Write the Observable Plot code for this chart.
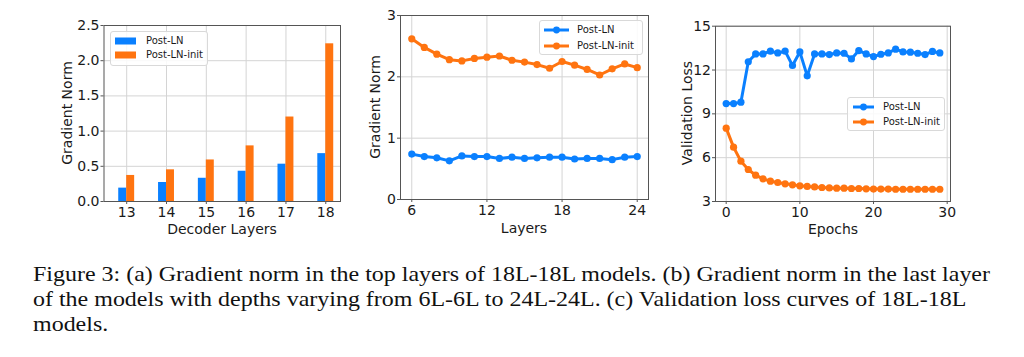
<!DOCTYPE html>
<html>
<head>
<meta charset="utf-8">
<script src="https://cdn.jsdelivr.net/npm/d3@7"></script>
<script src="https://cdn.jsdelivr.net/npm/@observablehq/plot@0.6"></script>
<style>
  html, body { margin: 0; padding: 0; background: #fff; }
  #root { position: relative; width: 1024px; height: 357px; overflow: hidden; background: #fff; font-family: "DejaVu Sans", sans-serif; }
  .panel { position: absolute; top: 0; }
  .atitle { position: absolute; font-family: "DejaVu Sans", sans-serif; font-size: 14px; color: #1a1a1a; white-space: nowrap; transform: translate(-50%, -50%); }
  .rot { transform: translate(-50%, -50%) rotate(-90deg); }
  .legend { position: absolute; background: rgba(255,255,255,0.85); border: 1px solid #d9d9d9; border-radius: 3px; box-sizing: border-box; }
  .legend .row { position: absolute; left: 0; height: 14px; font-size: 10px; color: #1a1a1a; white-space: nowrap; }
  .legend svg { position: absolute; top: 0; }
  .legend span { position: absolute; top: 0; line-height: 14px; }
  #caption { position: absolute; left: 33px; top: 262px; font-family: "Liberation Serif", "Times New Roman", serif; font-size: 21px; line-height: 25px; color: #111; white-space: nowrap; transform-origin: 0 0; }
  #caption div { white-space: nowrap; }
</style>
</head>
<body>
<div id="root">
  <div id="p1" class="panel" style="left:0px"></div>
  <div id="p2" class="panel" style="left:345px"></div>
  <div id="p3" class="panel" style="left:655px"></div>

  <div class="atitle rot" style="left:67px; top:113px">Gradient Norm</div>
  <div class="atitle" style="left:222px; top:229px">Decoder Layers</div>
  <div class="atitle rot" style="left:375px; top:107px">Gradient Norm</div>
  <div class="atitle" style="left:524px; top:228px">Layers</div>
  <div class="atitle rot" style="left:687px; top:113px">Validation Loss</div>
  <div class="atitle" style="left:833px; top:229px">Epochs</div>

  <div id="leg1" class="legend" style="left:110px; top:31px; width:98px; height:35px"></div>
  <div id="leg2" class="legend" style="left:539px; top:20px; width:104px; height:35px"></div>
  <div id="leg3" class="legend" style="left:847px; top:97px; width:98px; height:34px"></div>

  <div id="caption"><span id="cap1">Figure 3: (a) Gradient norm in the top layers of 18L-18L models. (b) Gradient norm in the last layer</span><br>of the models with depths varying from 6L-6L to 24L-24L. (c) Validation loss curves of 18L-18L<br>models.</div>
</div>
<script>
// ---------- Data ----------
const seriesNames = ["Post-LN", "Post-LN-init"];
const seriesColors = ["#0a80ff", "#ff7410"];

// (a) Gradient norm in top decoder layers (18L-18L)
const decoderLayers = [13, 14, 15, 16, 17, 18];
const gradA_postLN     = [0.19, 0.27, 0.33, 0.43, 0.53, 0.68];
const gradA_postLNinit = [0.37, 0.45, 0.59, 0.79, 1.20, 2.24];

// (b) Gradient norm in last layer vs depth
const depthLayers = [6, 7, 8, 9, 10, 11, 12, 13, 14, 15, 16, 17, 18, 19, 20, 21, 22, 23, 24];
const gradB_postLN     = [0.74, 0.70, 0.68, 0.63, 0.71, 0.70, 0.70, 0.67, 0.69, 0.67, 0.68, 0.69, 0.69, 0.66, 0.67, 0.67, 0.65, 0.69, 0.70];
const gradB_postLNinit = [2.62, 2.48, 2.37, 2.28, 2.26, 2.30, 2.32, 2.34, 2.27, 2.24, 2.20, 2.14, 2.25, 2.19, 2.12, 2.03, 2.13, 2.21, 2.15];

// (c) Validation loss vs epochs
const epochs = d3.range(0, 30);
const lossC_postLN = [9.70, 9.70, 9.80, 12.56, 13.10, 13.10, 13.29, 13.17, 13.29, 12.31, 13.24, 11.60, 13.10, 13.10, 13.06, 13.17, 13.15, 12.76, 13.33, 13.10, 12.92, 13.08, 13.17, 13.43, 13.24, 13.22, 13.15, 13.06, 13.27, 13.17];
const lossC_postLNinit = [8.02, 6.72, 5.76, 5.19, 4.80, 4.55, 4.39, 4.30, 4.21, 4.14, 4.07, 4.03, 4.00, 3.96, 3.93, 3.91, 3.91, 3.89, 3.89, 3.87, 3.85, 3.85, 3.85, 3.84, 3.84, 3.84, 3.84, 3.84, 3.84, 3.84];

// Tick values
const ticksA_y = [0, 0.5, 1, 1.5, 2, 2.5];
const ticksB_x = [6, 12, 18, 24];
const ticksB_y = [0, 1, 2, 3];
const ticksC_x = [0, 10, 20, 30];
const ticksC_y = [3, 6, 9, 12, 15];

// ---------- Tables ----------
const barsA = [];
decoderLayers.forEach((l, i) => {
  barsA.push({layer: l, series: seriesNames[0], value: gradA_postLN[i], off: -1});
  barsA.push({layer: l, series: seriesNames[1], value: gradA_postLNinit[i], off: 0});
});
const linesB = [
  ...depthLayers.map((l, i) => ({x: l, y: gradB_postLN[i], series: seriesNames[0]})),
  ...depthLayers.map((l, i) => ({x: l, y: gradB_postLNinit[i], series: seriesNames[1]}))
];
const linesC = [
  ...epochs.map((e, i) => ({x: e, y: lossC_postLN[i], series: seriesNames[0]})),
  ...epochs.map((e, i) => ({x: e, y: lossC_postLNinit[i], series: seriesNames[1]}))
];

const colorScale = {domain: seriesNames, range: seriesColors};
const gridStroke = "#d4d4d4";
const frameStroke = "#555";
const style = {fontFamily: "DejaVu Sans, sans-serif", fontSize: "14px", color: "#1a1a1a", background: "transparent", overflow: "visible"};
const barW = 0.2;
const axX = (ticks, fmt) => Plot.axisX({ticks, tickFormat: fmt, tickSize: 3, tickPadding: 3, fontSize: 14, label: null, stroke: frameStroke, fill: "#1a1a1a"});
const axY = (ticks, fmt) => Plot.axisY({ticks, tickFormat: fmt, tickSize: 3, tickPadding: 1.5, fontSize: 14, label: null, stroke: frameStroke, fill: "#1a1a1a"});

// ---------- Panel (a) ----------
const p1 = Plot.plot({
  width: 345, height: 245,
  marginLeft: 103.5, marginRight: 5, marginTop: 25, marginBottom: 44,
  style,
  x: {type: "linear", domain: [12.43, 18.37]},
  y: {domain: [0, 2.5]},
  color: colorScale,
  marks: [
    Plot.gridX(decoderLayers, {stroke: gridStroke, strokeOpacity: 1}),
    Plot.gridY(ticksA_y, {stroke: gridStroke, strokeOpacity: 1}),
    Plot.rectY(barsA, {x1: d => d.layer + d.off * barW, x2: d => d.layer + (d.off + 1) * barW, y1: 0, y2: "value", fill: "series"}),
    axX(decoderLayers, d3.format("d")),
    axY(ticksA_y, d3.format(".1f")),
    Plot.frame({stroke: frameStroke})
  ]
});
document.getElementById("p1").appendChild(p1);

// ---------- Panel (b) ----------
const p2 = Plot.plot({
  width: 310, height: 245,
  marginLeft: 55, marginRight: 7, marginTop: 15, marginBottom: 46,
  style,
  x: {domain: [5.1, 24.9]},
  y: {domain: [0, 3]},
  color: colorScale,
  marks: [
    Plot.gridX(ticksB_x, {stroke: gridStroke, strokeOpacity: 1}),
    Plot.gridY(ticksB_y, {stroke: gridStroke, strokeOpacity: 1}),
    Plot.line(linesB, {x: "x", y: "y", z: "series", stroke: "series", strokeWidth: 3}),
    Plot.dot(linesB, {x: "x", y: "y", fill: "series", r: 3.6}),
    axX(ticksB_x, d3.format("d")),
    axY(ticksB_y, d3.format("d")),
    Plot.frame({stroke: frameStroke})
  ]
});
document.getElementById("p2").appendChild(p2);

// ---------- Panel (c) ----------
const p3 = Plot.plot({
  width: 310, height: 245,
  marginLeft: 60, marginRight: 15, marginTop: 25.7, marginBottom: 44,
  style,
  x: {domain: [-1.45, 30.45]},
  y: {domain: [3, 15]},
  color: colorScale,
  marks: [
    Plot.gridX(ticksC_x, {stroke: gridStroke, strokeOpacity: 1}),
    Plot.gridY(ticksC_y, {stroke: gridStroke, strokeOpacity: 1}),
    Plot.line(linesC, {x: "x", y: "y", z: "series", stroke: "series", strokeWidth: 3}),
    Plot.dot(linesC, {x: "x", y: "y", fill: "series", r: 3.6}),
    axX(ticksC_x, d3.format("d")),
    axY(ticksC_y, d3.format("d")),
    Plot.frame({stroke: frameStroke})
  ]
});
document.getElementById("p3").appendChild(p3);

// ---------- Legends (HTML) ----------
function buildLegend(id, kind, swX, swW, textX, rowTops) {
  const el = document.getElementById(id);
  seriesNames.forEach((name, i) => {
    const row = document.createElement("div");
    row.className = "row";
    row.style.top = rowTops[i] + "px";
    row.style.width = "100%";
    const ns = "http://www.w3.org/2000/svg";
    const svg = document.createElementNS(ns, "svg");
    svg.setAttribute("width", swW);
    svg.setAttribute("height", 14);
    svg.style.left = swX + "px";
    if (kind === "patch") {
      const r = document.createElementNS(ns, "rect");
      r.setAttribute("x", 0); r.setAttribute("y", 3.5);
      r.setAttribute("width", swW); r.setAttribute("height", 7);
      r.setAttribute("fill", seriesColors[i]);
      svg.appendChild(r);
    } else {
      const l = document.createElementNS(ns, "line");
      l.setAttribute("x1", 0); l.setAttribute("x2", swW);
      l.setAttribute("y1", 7); l.setAttribute("y2", 7);
      l.setAttribute("stroke", seriesColors[i]); l.setAttribute("stroke-width", 3);
      svg.appendChild(l);
      const c = document.createElementNS(ns, "circle");
      c.setAttribute("cx", swW / 2); c.setAttribute("cy", 7); c.setAttribute("r", 3.4);
      c.setAttribute("fill", seriesColors[i]);
      svg.appendChild(c);
    }
    row.appendChild(svg);
    const t = document.createElement("span");
    t.textContent = name;
    t.style.left = textX + "px";
    row.appendChild(t);
    el.appendChild(row);
  });
}
buildLegend("leg1", "patch", 4, 21, 35, [2, 16]);
buildLegend("leg2", "line", 4, 25, 37, [2, 18]);
buildLegend("leg3", "line", 5, 21, 35, [2, 17]);

// Stretch caption horizontally so line 1 spans the same width as the reference (x 33 → 990)
const capW = document.getElementById("cap1").getBoundingClientRect().width;
if (capW > 0) document.getElementById("caption").style.transform = `scaleX(${957 / capW})`;
</script>
</body>
</html>
